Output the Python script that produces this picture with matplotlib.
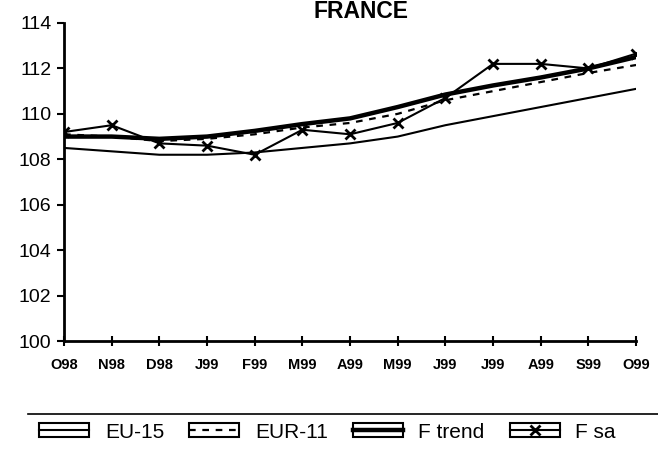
import matplotlib
matplotlib.use("Agg")
import matplotlib.pyplot as plt
from matplotlib.legend_handler import HandlerLine2D
from matplotlib.patches import Rectangle
from matplotlib.lines import Line2D

# data
months = ['O98', 'N98', 'D98', 'J99', 'F99', 'M99', 'A99', 'M99', 'J99', 'J99', 'A99', 'S99', 'O99']
eu15 = [108.5, 108.35, 108.2, 108.2, 108.3, 108.5, 108.7, 109.0, 109.5, 109.9, 110.3, 110.7, 111.1]
eur11 = [109.1, 109.0, 108.8, 108.9, 109.1, 109.4, 109.6, 110.0, 110.6, 111.0, 111.4, 111.8, 112.15]
f_trend = [109.0, 109.0, 108.9, 109.0, 109.25, 109.55, 109.8, 110.3, 110.85, 111.25, 111.6, 112.0, 112.5]
f_sa = [109.2, 109.5, 108.7, 108.6, 108.2, 109.3, 109.1, 109.6, 110.7, 112.2, 112.2, 112.0, 112.65]

plt.rcParams['font.family'] = ['Liberation Sans', 'DejaVu Sans']


class BoxedLine(HandlerLine2D):
    # line sample drawn inside a small box, like the old spreadsheet legends
    def create_artists(self, legend, orig_handle, xdescent, ydescent, width, height, fontsize, trans):
        arts = super().create_artists(legend, orig_handle, xdescent, ydescent, width, height, fontsize, trans)
        box = Rectangle((-xdescent, -ydescent), width, height,
                        fill=False, edgecolor='black', linewidth=1.5, transform=trans)
        return [box] + arts


fig = plt.figure(figsize=(6.58, 4.5), dpi=100)
ax = fig.add_axes([0.0973, 0.2422, 0.8693, 0.7067])

x = list(range(len(months)))
ax.plot(x, eu15, color='black', lw=1.5, label='EU-15')
ax.plot(x, eur11, color='black', lw=1.6, ls=(0, (3, 3)), label='EUR-11')
ax.plot(x, f_trend, color='black', lw=3.2, label='F trend')
ax.plot(x, f_sa, color='black', lw=1.5, marker='x', ms=7, mew=2, label='F sa')

ax.set_xlim(0, 12)
ax.set_ylim(100, 114)
ax.set_yticks(range(100, 115, 2))
ax.set_xticks(x)
ax.set_xticklabels(months, fontsize=10.5, fontweight='bold')
ax.tick_params(axis='y', labelsize=14, length=5, width=1.5, direction='out', pad=4)
ax.tick_params(axis='x', length=7, width=1.5, direction='inout', pad=9)
for s in ['top', 'right']:
    ax.spines[s].set_visible(False)
for s in ['left', 'bottom']:
    ax.spines[s].set_linewidth(2)

fig.text(0.549, 1 - 18 / 450, 'FRANCE', ha='center', va='baseline', fontsize=16.5, fontweight='bold')

fig.add_artist(Line2D([0.042, 1.0], [1 - 414 / 450, 1 - 414 / 450], color='black', lw=1.2))

handles, labels = ax.get_legend_handles_labels()
leg = fig.legend(handles, labels, loc='center', bbox_to_anchor=(0.498, 1 - 432 / 450), ncol=4,
                 frameon=False, handlelength=2.4, handleheight=0.67,
                 columnspacing=1.2, handletextpad=0.75, borderpad=0, borderaxespad=0,
                 handler_map={Line2D: BoxedLine()},
                 prop={'family': ['Liberation Sans Narrow', 'Liberation Sans'], 'size': 15})

fig.savefig('out.png', dpi=100)
